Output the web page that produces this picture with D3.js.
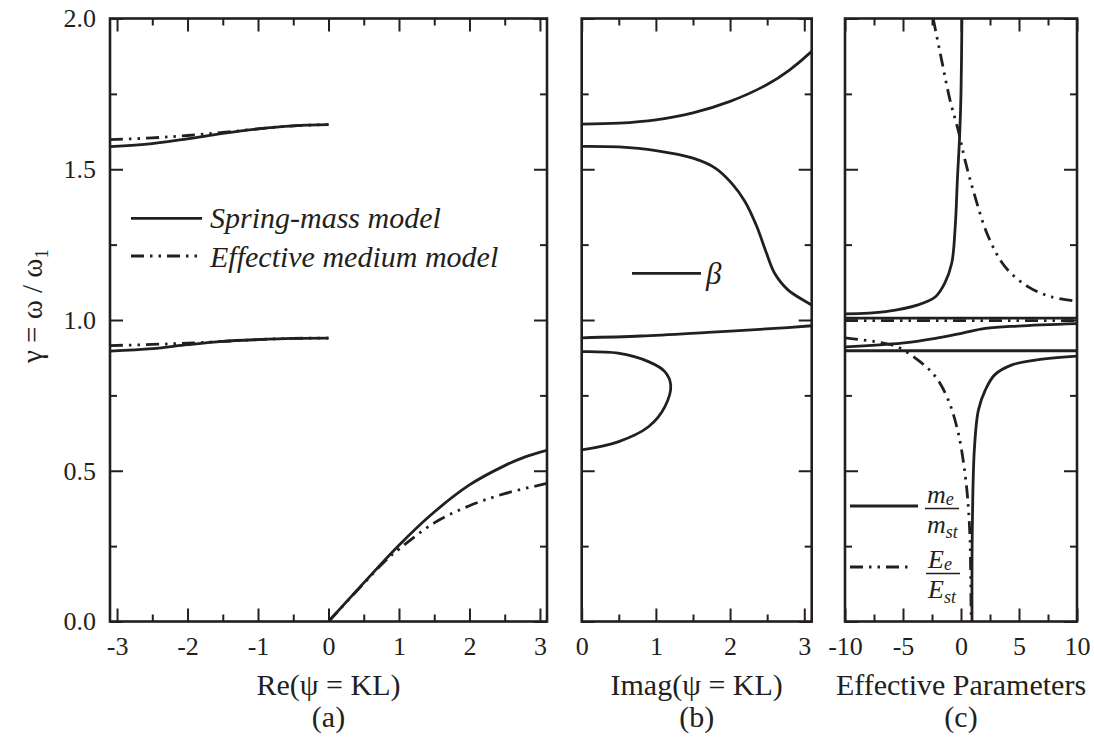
<!DOCTYPE html>
<html>
<head>
<meta charset="utf-8">
<script src="https://cdn.jsdelivr.net/npm/d3@7"></script>
<style>
  body { margin: 0; background: #fff; }
  svg, svg text { font-family: "Liberation Serif", "DejaVu Serif", "Times New Roman", serif; fill: #231f20; }
</style>
</head>
<body>
<svg id="chart" width="1094" height="738"></svg>
<script>
// ---- values ----
const gammaTicks = [0, 0.5, 1.0, 1.5, 2.0];
const gammaMinor = [0.25, 0.75, 1.25, 1.75];
const reTicks = [-3, -2, -1, 0, 1, 2, 3];
const reMinor = [-2.5, -1.5, -0.5, 0.5, 1.5, 2.5];
const imTicks = [0, 1, 2, 3];
const imMinor = [0.5, 1.5, 2.5];
const effTicks = [-10, -5, 0, 5, 10];
const effMinor = [-7.5, -2.5, 2.5, 7.5];

// (a) Re(psi) vs gamma : [psi, gamma]
const springBand1 = [[0,0],[0.5,0.128],[1,0.253],[1.5,0.363],[2,0.453],[2.5,0.517],[2.8,0.547],[3.1,0.568]];
const effBand1 = [[0,0],[0.5,0.126],[0.8,0.2],[1,0.24],[1.5,0.327],[2,0.384],[2.5,0.424],[3.1,0.458]];
const springBand2 = [[-3.1,0.897],[-2.5,0.905],[-2,0.918],[-1.5,0.929],[-1,0.935],[-0.5,0.939],[0,0.94]];
const effBand2 = [[-3.1,0.915],[-2.5,0.919],[-2,0.923],[-1.5,0.929],[-1,0.935],[-0.5,0.939],[0,0.94]];
const springBand3 = [[-3.1,1.575],[-2.5,1.585],[-2,1.601],[-1.5,1.619],[-1,1.634],[-0.5,1.644],[0,1.648]];
const effBand3 = [[-3.1,1.598],[-2.5,1.604],[-2,1.612],[-1.5,1.622],[-1,1.634],[-0.5,1.644],[0,1.648]];

// (b) Imag(psi) vs gamma : [beta, gamma]
const betaTop = [[0,1.65],[0.5,1.653],[1,1.664],[1.5,1.687],[2,1.725],[2.5,1.781],[2.8,1.829],[3.1,1.891]];
const betaMid = [[0,1.576],[0.5,1.574],[1,1.562],[1.5,1.537],[1.8,1.504],[2.02,1.454],[2.2,1.393],[2.36,1.31],[2.49,1.222],[2.6,1.155],[2.78,1.1],[3.1,1.05]];
const betaLow = [[0,0.941],[0.8,0.947],[1.7,0.959],[2.6,0.972],[3.1,0.981]];
const betaLoop = [[0,0.895],[0.49,0.89],[0.9,0.862],[1.12,0.829],[1.2,0.784],[1.12,0.712],[0.9,0.646],[0.49,0.596],[0,0.569]];

// (c) effective parameters vs gamma : [value, gamma]
const massUpper = [[-10,1.02],[-6.5,1.028],[-3.7,1.05],[-2.2,1.077],[-1.4,1.122],[-0.8,1.188],[-0.5,1.309],[-0.3,1.475],[-0.12,1.608],[0,1.752],[0.08,2.0]];
const massMid = [[-10,0.911],[-5.1,0.923],[-2.2,0.939],[0.06,0.956],[2.1,0.972],[4.9,0.98],[10,0.988]];
const massLow = [[0.95,0],[0.97,0.292],[1.15,0.569],[1.5,0.701],[2.1,0.768],[2.9,0.818],[4.4,0.851],[6.4,0.867],[10,0.88]];
const massJumps = [0.898, 1.006];
const modUpper = [[-2.4,2.0],[-1.67,1.862],[-0.95,1.73],[-0.17,1.619],[0.34,1.531],[1.21,1.409],[2.36,1.276],[3.79,1.177],[5.8,1.11],[7.8,1.077],[10,1.062]];
const modLow = [[-10,0.941],[-7.4,0.928],[-5.5,0.911],[-3.7,0.867],[-2.2,0.812],[-1.1,0.735],[-0.23,0.624],[0.34,0.492],[0.63,0.381],[0.78,0.27],[0.86,0.071],[0.88,0]];
const modJumps = [0.998];

// ---- layout ----
const ink = "#231f20";
const serif = '"Liberation Serif", "DejaVu Serif", "Times New Roman", serif';
const dashDot = "13,6,2.5,6,2.5,6";
const yTop = 18.5, yBottom = 621.5;
const svg = d3.select("#chart");

const y = d3.scaleLinear().domain([0, 2]).range([yBottom, yTop]);
const xa = d3.scaleLinear().domain([-3.1, 3.1]).range([110, 547]);
const xb = d3.scaleLinear().domain([0, 3.1]).range([581.7, 811.7]);
const xc = d3.scaleLinear().domain([-10, 10]).range([845, 1077]);

function drawFrame(id, x, major, minor, showY) {
    const g = svg.append("g");
    const [x0, x1] = x.range();

    const fmt = d => String(d);
    const put = (axis, tx, ty) => {
        const a = g.append("g").attr("transform", `translate(${tx},${ty})`).call(axis);
        a.attr("font-family", null);
        a.select(".domain").remove();
        a.selectAll(".tick line").attr("stroke", ink).attr("stroke-width", 2);
        a.selectAll(".tick text").attr("font-size", 26).attr("fill", ink)
            .style("font-family", serif);
        return a;
    };

    put(d3.axisBottom(x).tickValues(major).tickSize(-13).tickPadding(15).tickFormat(fmt), 0, yBottom);
    put(d3.axisBottom(x).tickValues(minor).tickSize(-7).tickFormat(""), 0, yBottom);
    put(d3.axisTop(x).tickValues(major).tickSize(-13).tickFormat(""), 0, yTop);
    put(d3.axisTop(x).tickValues(minor).tickSize(-7).tickFormat(""), 0, yTop);

    put(d3.axisLeft(y).tickValues(gammaTicks).tickSize(-13).tickPadding(14)
        .tickFormat(showY ? d3.format(".1f") : ""), x0, 0);
    put(d3.axisLeft(y).tickValues(gammaMinor).tickSize(-7).tickFormat(""), x0, 0);
    put(d3.axisRight(y).tickValues(gammaTicks).tickSize(-13).tickFormat(""), x1, 0);
    put(d3.axisRight(y).tickValues(gammaMinor).tickSize(-7).tickFormat(""), x1, 0);

    g.append("rect")
        .attr("x", x0).attr("y", yTop)
        .attr("width", x1 - x0).attr("height", yBottom - yTop)
        .attr("fill", "none").attr("stroke", ink).attr("stroke-width", 2.6);

    svg.append("clipPath").attr("id", id)
        .append("rect").attr("x", x0).attr("y", yTop)
        .attr("width", x1 - x0).attr("height", yBottom - yTop);

    return svg.append("g").attr("clip-path", `url(#${id})`);
}

function curve(g, x, data, dashed) {
    const line = d3.line()
        .x(d => x(d[0]))
        .y(d => y(d[1]))
        .curve(d3.curveCatmullRom.alpha(0.5));
    g.append("path")
        .datum(data)
        .attr("d", line)
        .attr("fill", "none")
        .attr("stroke", ink)
        .attr("stroke-width", 2.8)
        .attr("stroke-dasharray", dashed ? dashDot : null);
}

function hline(g, x, level, dashed) {
    const [d0, d1] = x.domain();
    curve(g, x, [[d0, level], [d1, level]], dashed);
}

// panel (a)
const ga = drawFrame("clipA", xa, reTicks, reMinor, true);
curve(ga, xa, effBand1, true);
curve(ga, xa, effBand2, true);
curve(ga, xa, effBand3, true);
curve(ga, xa, springBand1, false);
curve(ga, xa, springBand2, false);
curve(ga, xa, springBand3, false);

// panel (b)
const gb = drawFrame("clipB", xb, imTicks, imMinor, false);
[betaTop, betaMid, betaLow, betaLoop].forEach(s => curve(gb, xb, s, false));

// panel (c)
const gc = drawFrame("clipC", xc, effTicks, effMinor, false);
massJumps.forEach(v => hline(gc, xc, v, false));
modJumps.forEach(v => hline(gc, xc, v, true));
curve(gc, xc, modUpper, true);
curve(gc, xc, modLow, true);
curve(gc, xc, massUpper, false);
curve(gc, xc, massMid, false);
curve(gc, xc, massLow, false);

// ---- labels ----
function txt(x, yy, size, italic) {
    return svg.append("text")
        .attr("x", x).attr("y", yy)
        .attr("font-size", size)
        .attr("font-style", italic ? "italic" : null)
        .style("font-family", serif);
}

txt(328.5, 695, 30).attr("text-anchor", "middle").text("Re(\u03C8 = KL)");
txt(696.7, 695, 30).attr("text-anchor", "middle").text("Imag(\u03C8 = KL)");
txt(961, 695, 30).attr("text-anchor", "middle").text("Effective Parameters");
txt(328.5, 727, 30).attr("text-anchor", "middle").text("(a)");
txt(696.7, 727, 30).attr("text-anchor", "middle").text("(b)");
txt(961, 727, 30).attr("text-anchor", "middle").text("(c)");

const yl = txt(0, 0, 29)
    .attr("transform", "translate(42,306) rotate(-90)")
    .attr("text-anchor", "middle");
yl.append("tspan").text("\u03B3 = \u03C9 / \u03C9");
yl.append("tspan").attr("font-size", 19).attr("dy", 6).text("1");

// legends
function legLine(x0, x1, yy, dashed) {
    svg.append("line")
        .attr("x1", x0).attr("x2", x1).attr("y1", yy).attr("y2", yy)
        .attr("stroke", ink).attr("stroke-width", 2.8)
        .attr("stroke-dasharray", dashed ? dashDot : null);
}

legLine(131, 202, 218.3, false);
legLine(131, 202, 256, true);
txt(210, 228.3, 30, true).text("Spring-mass model");
txt(210, 266.7, 30, true).text("Effective medium model");

legLine(632, 701, 273.3, false);
txt(706, 284, 31, true).text("\u03B2");

legLine(850, 918, 506, false);
legLine(850, 913, 567, true);

// stacked fraction label, e.g. m_e over m_st
function frac(x, barY, sym, subTop, subBot) {
    const t1 = txt(x + 2, barY - 6, 26, true);
    t1.append("tspan").text(sym);
    t1.append("tspan").attr("font-size", 18).attr("dy", 2).text(subTop);
    const t2 = txt(x + 2, barY + 24, 26, true);
    t2.append("tspan").text(sym);
    t2.append("tspan").attr("font-size", 18).attr("dy", 5).text(subBot);
    svg.append("line").attr("x1", x).attr("x2", x + 34)
        .attr("y1", barY).attr("y2", barY)
        .attr("stroke", ink).attr("stroke-width", 1.4);
}
frac(925, 508.5, "m", "e", "st");
frac(926, 573.5, "E", "e", "st");
</script>
</body>
</html>
